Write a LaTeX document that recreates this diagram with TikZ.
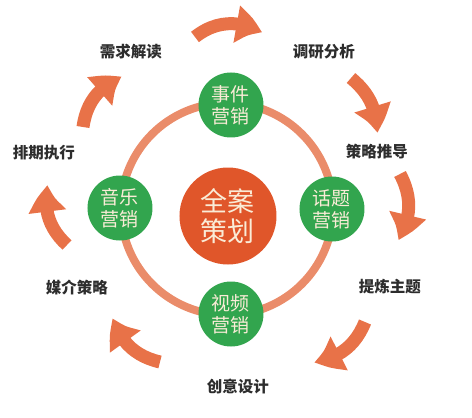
\documentclass[tikz,border=0pt]{standalone}
\usepackage{fontspec}
\setmainfont{Noto Sans CJK SC}
\usepackage{tikz}
\usetikzlibrary{arrows.meta}
\usetikzlibrary{bending}
\definecolor{arrc}{RGB}{232,114,72}
\definecolor{ringc}{RGB}{234,140,106}
\definecolor{hubc}{RGB}{224,86,42}
\definecolor{subc}{RGB}{50,165,78}
\definecolor{cream}{RGB}{250,236,215}
\definecolor{txtc}{RGB}{45,45,45}

\begin{document}
\begin{tikzpicture}[x=1pt, y=1pt,
        hub/.style={circle, fill=hubc, minimum size=97pt, inner sep=0pt, align=center, text=cream, font=\fontsize{27}{30}\selectfont},
        sub/.style={circle, fill=subc, minimum size=65pt, inner sep=0pt, align=center, text=cream, font=\fontsize{19}{22}\selectfont},
        stage/.style={inner sep=0pt, text=txtc, font=\fontsize{15.5}{18}\selectfont\bfseries},
        flow/.style={draw=arrc, line width=13pt, -{Triangle[width=35pt, length=28pt, bend]}}]
        \useasboundingbox (-227, -209) rectangle (245, 209);
        \draw [ringc, line width=8pt] (0, 0) circle (106);
        \node [hub] (c) at (1, -7) {全案\\策划};
        \node [sub] (g1) at (4, 104) {事件\\营销};
        \node [sub] (g2) at (105, 0) {话题\\营销};
        \node [sub] (g3) at (4, -105) {视频\\营销};
        \node [sub] (g4) at (-107, 1) {音乐\\营销};
        \node [stage] (s1) at (-96, 157) {需求解读};
        \node [stage] (s2) at (97, 157) {调研分析};
        \node [stage] (s3) at (150, 57) {策略推导};
        \node [stage] (s4) at (163, -78) {提炼主题};
        \node [stage] (s5) at (11, -178) {创意设计};
        \node [stage] (s6) at (-150, -78) {媒介策略};
        \node [stage] (s7) at (-183, 56) {排期执行};
        \coordinate (t1) at (-32, 172);
        \coordinate (h1) at (35, 176);
        \coordinate (t2) at (124, 131);
        \coordinate (h2) at (150, 76);
        \coordinate (t3) at (173, 35);
        \coordinate (h3) at (171, -31);
        \coordinate (t4) at (138, -113);
        \coordinate (h4) at (87, -153);
        \coordinate (t5) at (-67, -153);
        \coordinate (h5) at (-114, -109);
        \coordinate (t6) at (-160, -36);
        \coordinate (h6) at (-179, 24);
        \coordinate (t7) at (-144, 82);
        \coordinate (h7) at (-105, 132);
        \draw [flow] (t1) to [bend left=35] (h1);
        \draw [flow] (t2) to [bend left=25] (h2);
        \draw [flow] (t3) to [bend left=30] (h3);
        \draw [flow] (t4) to [bend left=30] (h4);
        \draw [flow] (t5) to [bend left=30] (h5);
        \draw [flow] (t6) to [bend left=30] (h6);
        \draw [flow] (t7) to [bend left=30] (h7);
\end{tikzpicture}
\end{document}
